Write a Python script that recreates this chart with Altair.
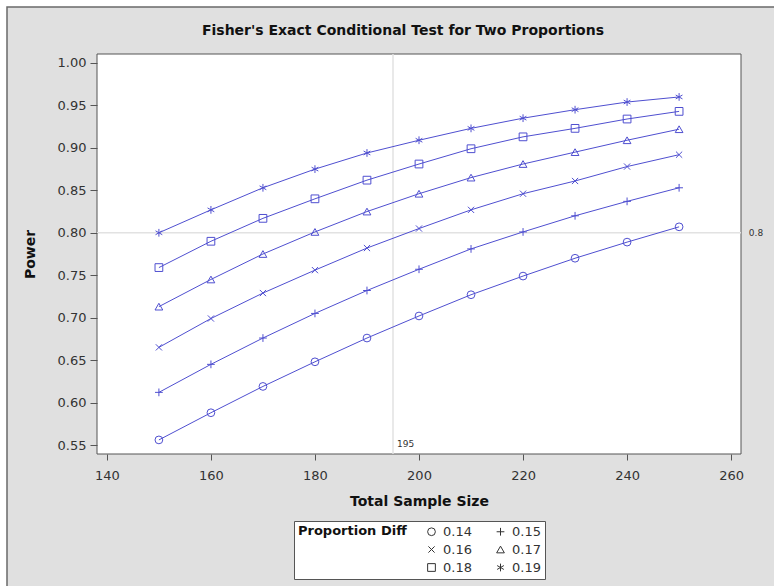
import altair as alt
import pandas as pd

# ---- data ----
sample_size = [150, 160, 170, 180, 190, 200, 210, 220, 230, 240, 250]
diff_labels = ["0.14", "0.15", "0.16", "0.17", "0.18", "0.19"]
power_014 = [0.556, 0.588, 0.619, 0.648, 0.676, 0.702, 0.727, 0.749, 0.770, 0.789, 0.807]
power_015 = [0.612, 0.645, 0.676, 0.705, 0.732, 0.757, 0.781, 0.801, 0.820, 0.837, 0.853]
power_016 = [0.665, 0.699, 0.729, 0.756, 0.782, 0.805, 0.827, 0.846, 0.861, 0.878, 0.892]
power_017 = [0.713, 0.745, 0.775, 0.801, 0.825, 0.846, 0.865, 0.881, 0.895, 0.909, 0.922]
power_018 = [0.759, 0.790, 0.817, 0.840, 0.862, 0.881, 0.899, 0.913, 0.923, 0.934, 0.943]
power_019 = [0.800, 0.827, 0.853, 0.875, 0.894, 0.909, 0.923, 0.935, 0.945, 0.954, 0.960]
x_ticks = [140, 160, 180, 200, 220, 240, 260]
y_ticks = [0.55, 0.60, 0.65, 0.70, 0.75, 0.80, 0.85, 0.90, 0.95, 1.00]
ref_power = 0.8
ref_n = 195
title_text = "Fisher's Exact Conditional Test for Two Proportions"

series = [power_014, power_015, power_016, power_017, power_018, power_019]
rows = []
for lab, vals in zip(diff_labels, series):
    for n, p in zip(sample_size, vals):
        rows.append({"n": n, "power": p, "diff": lab})
df = pd.DataFrame(rows)

W, H = 644, 400
LINE = "#4f4fd0"
FONT = "DejaVu Sans"

xs = alt.Scale(domain=[138.1, 261.9], nice=False, zero=False)
ys = alt.Scale(domain=[0.5394, 1.0106], nice=False, zero=False)

shape_range = [
    "circle",
    "M-1,0H1M0,-1V1",
    "M-0.8,-0.8L0.8,0.8M-0.8,0.8L0.8,-0.8",
    "triangle-up",
    "square",
    "M0,-1V1M-0.87,-0.5L0.87,0.5M-0.87,0.5L0.87,-0.5",
]

one = alt.Data(values=[{}])

bg = alt.Chart(one).mark_rect(fill="#e0e0e0", stroke="#6a6a6a", strokeWidth=1.5).encode(
    x=alt.value(-90), x2=alt.value(720), y=alt.value(-47), y2=alt.value(600)
)
plotbg = alt.Chart(one).mark_rect(fill="white", stroke="#555555", strokeWidth=1).encode(
    x=alt.value(0), x2=alt.value(W), y=alt.value(0), y2=alt.value(H)
)
title_mark = alt.Chart(one).mark_text(font=FONT, fontSize=14, fontWeight="bold", color="#111111",
                                      align="center", baseline="alphabetic").encode(
    x=alt.value(306), y=alt.value(-19), text=alt.value(title_text)
)

xaxis = alt.Axis(values=x_ticks, title="Total Sample Size", grid=False, domain=False,
                 tickSize=6, tickColor="#555555", labelPadding=9, labelFont=FONT,
                 labelFontSize=13, labelColor="#333333", titleFont=FONT, titleFontSize=14,
                 titleFontWeight="bold", titleColor="#111111", titleX=322, titleY=47,
                 titleBaseline="middle", titleAlign="center", zindex=1)
yaxis = alt.Axis(values=y_ticks, format=".2f", title="Power", grid=False, domain=False,
                 tickSize=7, tickColor="#555555", labelPadding=4, labelFont=FONT,
                 labelFontSize=13, labelColor="#333333", titleFont=FONT, titleFontSize=14,
                 titleFontWeight="bold", titleColor="#111111", titleX=-67, titleY=200,
                 titleBaseline="middle", titleAlign="center", titleAngle=270, zindex=1)

hrule = alt.Chart(one).mark_rule(color="#e2e2e2", strokeWidth=1.5).encode(
    y=alt.Y(datum=ref_power, type="quantitative", scale=ys, axis=yaxis)
)
vrule = alt.Chart(one).mark_rule(color="#e2e2e2", strokeWidth=1.5).encode(
    x=alt.X(datum=ref_n, type="quantitative", scale=xs, axis=xaxis)
)

lines = alt.Chart(df).mark_line(color=LINE, strokeWidth=1).encode(
    x=alt.X("n:Q", scale=xs, axis=xaxis),
    y=alt.Y("power:Q", scale=ys, axis=yaxis),
    detail="diff:N",
)
points = alt.Chart(df).mark_point(filled=False, color=LINE, size=60, strokeWidth=1, opacity=1).encode(
    x=alt.X("n:Q", scale=xs, axis=xaxis),
    y=alt.Y("power:Q", scale=ys, axis=yaxis),
    shape=alt.Shape("diff:N", scale=alt.Scale(domain=diff_labels, range=shape_range),
                    legend=alt.Legend(title="Proportion Diff", orient="none", legendX=197,
                                      legendY=467, columns=2, direction="horizontal",
                                      titleOrient="left", titleAnchor="start",
                                      titleBaseline="top",
                                      strokeColor="#555555", fillColor="white", padding=4,
                                      titleFont=FONT, titleFontSize=13, titleFontWeight="bold",
                                      titleColor="#111111", titlePadding=18, labelFont=FONT,
                                      labelFontSize=13, labelColor="#333333",
                                      symbolStrokeColor="#333333", symbolSize=60,
                                      symbolStrokeWidth=1, columnPadding=22, rowPadding=4,
                                      labelOffset=5)),
)

lbl08 = alt.Chart(one).mark_text(font=FONT, fontSize=9, color="#333333", align="center", dx=15).encode(
    x=alt.X(datum=261.9, type="quantitative", scale=xs, axis=xaxis),
    y=alt.Y(datum=ref_power, type="quantitative", scale=ys, axis=yaxis),
    text=alt.value("0.8"),
)
lbl195 = alt.Chart(one).mark_text(font=FONT, fontSize=9, color="#333333", align="left", dx=4, dy=-10).encode(
    x=alt.X(datum=ref_n, type="quantitative", scale=xs, axis=xaxis),
    y=alt.Y(datum=0.5394, type="quantitative", scale=ys, axis=yaxis),
    text=alt.value("195"),
)

chart = alt.layer(bg, plotbg, hrule, vrule, lines, points, lbl08, lbl195, title_mark).properties(
    width=W, height=H,
    autosize=alt.AutoSizeParams(type="none"),
    padding={"left": 97, "top": 54, "right": 33, "bottom": 132},
    background="white",
).configure_view(stroke=None)

chart.save("out.html", embed_options={"renderer": "svg", "actions": False})
